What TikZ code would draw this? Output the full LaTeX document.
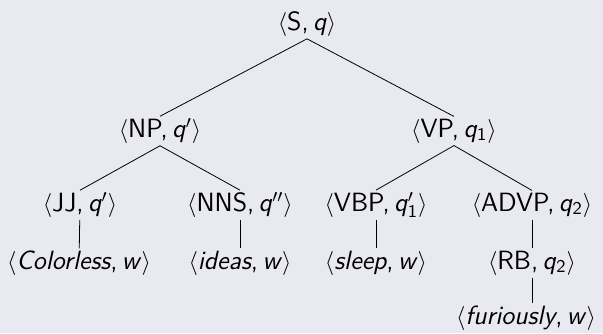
\documentclass[tikz,border=0pt]{standalone}
\usepackage{tikz}

\definecolor{slidebg}{RGB}{233,233,242}
\newcommand{\pairlab}[2]{$\langle$#1,\thinspace#2$\rangle$}
\newcommand{\qv}{\textit{q}}

\begin{document}
\begin{tikzpicture}[
    x=0.5pt, y=-0.5pt,
    tnode/.style={inner sep=1pt, font=\fontsize{13.2}{15}\selectfont\sffamily},
    edge/.style={thin, black}
  ]

    % Background
    \useasboundingbox (0,0) rectangle (603,333);
    \fill[slidebg] (0,0) rectangle (603,333);

    % Root
    \node[tnode] (s) at (307,24) {\pairlab{S}{\qv}};

    % Second layer - phrases
    \node[tnode] (np) at (160,131) {\pairlab{NP}{\qv$'$}};
    \node[tnode] (vp) at (454,131) {\pairlab{VP}{\qv$_{\mathsf{1}}$}};

    % Third layer - tags
    \node[tnode] (jj) at (80,205) {\pairlab{JJ}{\qv$'$}};
    \node[tnode] (nns) at (240,205) {\pairlab{NNS}{\qv$''$}};
    \node[tnode] (vbp) at (376,205) {\pairlab{VBP}{\qv$'_{\mathsf{1}}$}};
    \node[tnode] (advp) at (532,205) {\pairlab{ADVP}{\qv$_{\mathsf{2}}$}};

    % Fourth layer - words
    \node[tnode] (colorless) at (79,263) {\pairlab{\textit{Colorless}}{\textit{w}}};
    \node[tnode] (ideas) at (240,263) {\pairlab{\textit{ideas}}{\textit{w}}};
    \node[tnode] (sleep) at (376,263) {\pairlab{\textit{sleep}}{\textit{w}}};
    \node[tnode] (rb) at (532,263) {\pairlab{RB}{\qv$_{\mathsf{2}}$}};

    % Bottom layer
    \node[tnode] (furiously) at (526,318) {\pairlab{\textit{furiously}}{\textit{w}}};

    % Edges
    \draw[edge] (s.south) -- (np.north);
    \draw[edge] (s.south) -- (vp.north);
    \draw[edge] (np.south) -- (jj.north);
    \draw[edge] (np.south) -- (nns.north);
    \draw[edge] (vp.south) -- (vbp.north);
    \draw[edge] (vp.south) -- (advp.north);
    \draw[edge] (jj) -- (colorless);
    \draw[edge] (nns) -- (ideas);
    \draw[edge] (vbp) -- (sleep);
    \draw[edge] (advp) -- (rb);
    \draw[edge] (rb.south) -- (rb.south |- furiously.north);

  \end{tikzpicture}
\end{document}
